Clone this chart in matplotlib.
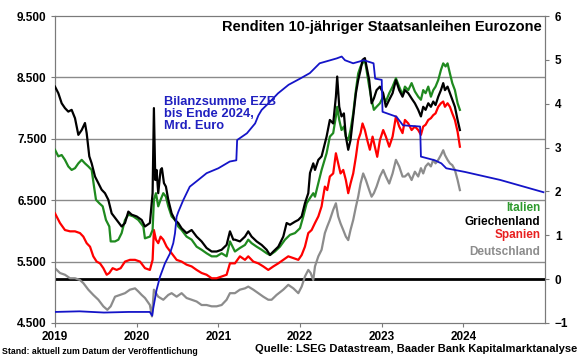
import matplotlib
matplotlib.use("Agg")
import matplotlib.pyplot as plt
from matplotlib.ticker import FuncFormatter

plt.rcParams['font.family'] = ['Liberation Sans', 'DejaVu Sans']
plt.rcParams['font.weight'] = 'bold'

# EZB-Bilanzsumme (Mrd. Euro, linke Achse)
ezb_t = [2019.0, 2019.3, 2019.6, 2019.9, 2020.16, 2020.19, 2020.203, 2020.244, 2020.285,
         2020.346, 2020.407, 2020.448, 2020.469, 2020.489, 2020.51, 2020.57, 2020.65,
         2020.754, 2020.856, 2021.0, 2021.14, 2021.22, 2021.23, 2021.35, 2021.45, 2021.49,
         2021.53, 2021.63, 2021.73, 2021.86, 2022.0, 2022.12, 2022.24, 2022.45, 2022.51,
         2022.55, 2022.65, 2022.73, 2022.78, 2022.90, 2022.92, 2023.0, 2023.01, 2023.18,
         2023.26, 2023.47, 2023.48, 2023.65, 2023.73, 2023.79, 2024.02, 2024.45, 2024.98]
ezb = [4680, 4690, 4670, 4680, 4680, 4620, 4740, 5040, 5250,
       5470, 5630, 5800, 5960, 6230, 6310, 6500, 6720,
       6830, 6940, 7020, 7130, 7150, 7480, 7590, 7750, 7880,
       7970, 8100, 8240, 8380, 8480, 8570, 8730, 8810, 8840,
       8780, 8730, 8760, 8780, 8730, 8480, 8460, 7940, 7860,
       7720, 7700, 7210, 7150, 7100, 7020, 6960, 6830, 6630]

# Renditen 10 J. (%, rechte Achse)
gr_t = [2019.000, 2019.041, 2019.082, 2019.122, 2019.163, 2019.204, 2019.245, 2019.286, 2019.327,
        2019.367, 2019.388, 2019.420, 2019.449, 2019.490, 2019.531, 2019.571, 2019.612, 2019.653,
        2019.694, 2019.755, 2019.816, 2019.857, 2019.898, 2019.939, 2020.000, 2020.061, 2020.102,
        2020.162, 2020.195, 2020.211, 2020.228, 2020.244, 2020.264, 2020.293, 2020.309, 2020.334,
        2020.358, 2020.387, 2020.428, 2020.469, 2020.509, 2020.550, 2020.611, 2020.673, 2020.734,
        2020.795, 2020.856, 2020.918, 2020.979, 2021.040, 2021.101, 2021.142, 2021.183, 2021.203,
        2021.264, 2021.326, 2021.366, 2021.407, 2021.469, 2021.530, 2021.591, 2021.632, 2021.673,
        2021.734, 2021.795, 2021.836, 2021.877, 2021.938, 2021.979, 2022.020, 2022.060, 2022.101,
        2022.122, 2022.162, 2022.183, 2022.224, 2022.264, 2022.325, 2022.365, 2022.406, 2022.439,
        2022.455, 2022.480, 2022.508, 2022.537, 2022.561, 2022.590, 2022.618, 2022.651, 2022.684,
        2022.712, 2022.741, 2022.765, 2022.794, 2022.814, 2022.847, 2022.876, 2022.904, 2022.937,
        2022.978, 2023.018, 2023.051, 2023.092, 2023.133, 2023.174, 2023.214, 2023.255, 2023.284,
        2023.325, 2023.366, 2023.406, 2023.447, 2023.480, 2023.508, 2023.537, 2023.570, 2023.602,
        2023.631, 2023.659, 2023.692, 2023.725, 2023.753, 2023.774, 2023.806, 2023.835, 2023.864,
        2023.896, 2023.929, 2023.957]
gr = [4.39, 4.24, 4.01, 3.90, 3.82, 3.86, 3.67, 3.29, 3.40,
      3.56, 3.33, 2.80, 2.64, 2.34, 2.19, 2.04, 1.96, 1.81,
      1.50, 1.35, 1.20, 1.28, 1.54, 1.47, 1.43, 1.35, 1.20,
      1.28, 1.96, 3.90, 2.26, 2.49, 1.96, 2.49, 2.53, 2.19,
      2.11, 1.81, 1.50, 1.35, 1.28, 1.16, 1.05, 1.12, 0.97,
      0.86, 0.71, 0.63, 0.63, 0.67, 0.78, 1.09, 0.90, 0.90,
      0.86, 0.97, 1.09, 0.97, 0.86, 0.78, 0.67, 0.55, 0.63,
      0.74, 0.97, 1.28, 1.24, 1.31, 1.35, 1.43, 1.73, 1.96,
      2.42, 2.64, 2.49, 2.72, 2.80, 3.25, 3.63, 3.55, 4.16,
      4.62, 3.93, 3.71, 3.78, 3.25, 2.95, 3.17, 3.71, 4.24,
      4.54, 4.77, 5.00, 5.04, 4.85, 4.54, 4.01, 4.12, 4.31,
      4.39, 4.24, 3.93, 4.09, 4.24, 4.54, 4.31, 4.16, 4.31,
      4.24, 4.12, 4.01, 3.86, 3.71, 3.93, 3.86, 4.01, 3.93,
      4.05, 3.97, 4.16, 4.31, 4.47, 4.31, 4.39, 4.24, 4.09,
      3.93, 3.63, 3.40]

it_t = [2019.000, 2019.041, 2019.082, 2019.122, 2019.163, 2019.204, 2019.245, 2019.286, 2019.327,
        2019.367, 2019.408, 2019.449, 2019.478, 2019.502, 2019.543, 2019.584, 2019.624, 2019.665,
        2019.682, 2019.735, 2019.776, 2019.816, 2019.857, 2019.898, 2019.959, 2020.020, 2020.082,
        2020.101, 2020.162, 2020.195, 2020.211, 2020.236, 2020.264, 2020.293, 2020.326, 2020.358,
        2020.387, 2020.428, 2020.469, 2020.509, 2020.550, 2020.611, 2020.673, 2020.734, 2020.795,
        2020.856, 2020.918, 2020.979, 2021.040, 2021.101, 2021.142, 2021.203, 2021.264, 2021.326,
        2021.366, 2021.407, 2021.469, 2021.530, 2021.591, 2021.632, 2021.693, 2021.754, 2021.816,
        2021.877, 2021.938, 2021.999, 2022.040, 2022.081, 2022.122, 2022.162, 2022.183, 2022.224,
        2022.264, 2022.325, 2022.365, 2022.406, 2022.439, 2022.455, 2022.480, 2022.508, 2022.537,
        2022.561, 2022.590, 2022.618, 2022.651, 2022.684, 2022.712, 2022.741, 2022.765, 2022.794,
        2022.814, 2022.847, 2022.876, 2022.904, 2022.937, 2022.978, 2023.018, 2023.051, 2023.092,
        2023.133, 2023.174, 2023.214, 2023.255, 2023.284, 2023.325, 2023.366, 2023.406, 2023.447,
        2023.480, 2023.508, 2023.537, 2023.570, 2023.602, 2023.631, 2023.659, 2023.692, 2023.725,
        2023.753, 2023.782, 2023.806, 2023.835, 2023.864, 2023.896, 2023.929, 2023.957]
it = [2.95, 2.80, 2.83, 2.72, 2.57, 2.49, 2.53, 2.64, 2.72,
      2.64, 2.57, 2.49, 2.11, 1.81, 1.73, 1.66, 1.35, 1.20,
      0.86, 0.86, 0.90, 1.05, 1.35, 1.47, 1.43, 1.35, 1.20,
      0.93, 0.97, 1.12, 1.81, 1.96, 1.66, 1.81, 1.96, 1.88,
      1.66, 1.43, 1.35, 1.20, 1.12, 0.97, 0.90, 0.74, 0.67,
      0.59, 0.52, 0.52, 0.59, 0.52, 0.86, 0.63, 0.71, 0.78,
      0.90, 0.82, 0.74, 0.67, 0.59, 0.55, 0.63, 0.74, 0.90,
      1.01, 1.05, 1.16, 1.43, 1.73, 1.85, 1.96, 1.88, 2.19,
      2.49, 2.87, 3.25, 3.33, 3.71, 3.93, 3.63, 3.40, 3.48,
      3.25, 3.17, 3.40, 3.78, 4.31, 4.69, 4.85, 4.92, 5.00,
      4.77, 4.39, 4.09, 3.86, 3.93, 4.01, 4.16, 4.05, 4.24,
      4.39, 4.58, 4.39, 4.20, 4.39, 4.31, 4.47, 4.28, 4.16,
      4.09, 4.31, 4.24, 4.39, 4.16, 4.31, 4.39, 4.54, 4.77,
      4.92, 4.85, 4.92, 4.69, 4.47, 4.31, 4.01, 3.86]

es_t = [2019.000, 2019.061, 2019.122, 2019.184, 2019.245, 2019.306, 2019.347, 2019.388, 2019.429,
        2019.469, 2019.510, 2019.551, 2019.592, 2019.633, 2019.665, 2019.706, 2019.755, 2019.804,
        2019.857, 2019.918, 2019.980, 2020.041, 2020.102, 2020.162, 2020.195, 2020.211, 2020.236,
        2020.264, 2020.293, 2020.326, 2020.367, 2020.428, 2020.489, 2020.550, 2020.611, 2020.673,
        2020.734, 2020.795, 2020.856, 2020.918, 2020.979, 2021.040, 2021.101, 2021.142, 2021.203,
        2021.264, 2021.326, 2021.366, 2021.428, 2021.489, 2021.550, 2021.611, 2021.673, 2021.734,
        2021.795, 2021.856, 2021.918, 2021.979, 2022.020, 2022.060, 2022.101, 2022.142, 2022.183,
        2022.224, 2022.264, 2022.276, 2022.304, 2022.333, 2022.365, 2022.406, 2022.439, 2022.467,
        2022.496, 2022.529, 2022.561, 2022.590, 2022.618, 2022.651, 2022.684, 2022.712, 2022.741,
        2022.765, 2022.794, 2022.823, 2022.855, 2022.888, 2022.916, 2022.945, 2022.978, 2023.018,
        2023.051, 2023.092, 2023.133, 2023.174, 2023.214, 2023.255, 2023.284, 2023.325, 2023.366,
        2023.406, 2023.447, 2023.480, 2023.508, 2023.537, 2023.570, 2023.602, 2023.631, 2023.659,
        2023.692, 2023.725, 2023.753, 2023.774, 2023.806, 2023.835, 2023.864, 2023.896, 2023.929,
        2023.957]
es = [1.50, 1.28, 1.12, 1.09, 1.09, 1.05, 0.97, 0.82, 0.74,
      0.52, 0.40, 0.36, 0.25, 0.10, 0.14, 0.25, 0.21, 0.25,
      0.40, 0.44, 0.44, 0.40, 0.25, 0.21, 0.44, 1.12, 0.90,
      0.82, 0.97, 0.90, 0.74, 0.59, 0.44, 0.40, 0.33, 0.29,
      0.21, 0.14, 0.10, 0.02, 0.02, 0.06, 0.10, 0.36, 0.36,
      0.52, 0.44, 0.52, 0.40, 0.36, 0.29, 0.21, 0.29, 0.36,
      0.44, 0.52, 0.48, 0.44, 0.55, 0.74, 1.05, 1.12, 1.28,
      1.43, 1.66, 1.80, 2.11, 2.03, 2.34, 2.41, 2.87, 2.64,
      2.41, 2.49, 2.26, 1.96, 2.18, 2.41, 2.79, 3.17, 3.33,
      3.55, 3.40, 3.17, 2.95, 3.25, 3.02, 2.79, 3.17, 3.40,
      3.25, 3.02, 3.25, 3.71, 3.48, 3.33, 3.63, 3.55, 3.40,
      3.48, 3.40, 3.29, 3.48, 3.52, 3.63, 3.67, 3.74, 3.78,
      3.93, 4.01, 4.05, 3.93, 4.01, 3.93, 3.78, 3.63, 3.36,
      3.02]

de_t = [2019.000, 2019.061, 2019.122, 2019.184, 2019.245, 2019.306, 2019.347, 2019.408, 2019.469,
        2019.531, 2019.592, 2019.641, 2019.682, 2019.735, 2019.796, 2019.857, 2019.918, 2019.980,
        2020.020, 2020.061, 2020.102, 2020.162, 2020.187, 2020.211, 2020.236, 2020.264, 2020.326,
        2020.387, 2020.428, 2020.489, 2020.550, 2020.611, 2020.673, 2020.734, 2020.795, 2020.856,
        2020.918, 2020.979, 2021.040, 2021.101, 2021.142, 2021.203, 2021.264, 2021.326, 2021.366,
        2021.428, 2021.489, 2021.550, 2021.611, 2021.652, 2021.713, 2021.795, 2021.856, 2021.918,
        2021.979, 2022.020, 2022.060, 2022.101, 2022.130, 2022.162, 2022.183, 2022.224, 2022.264,
        2022.304, 2022.333, 2022.365, 2022.406, 2022.439, 2022.467, 2022.496, 2022.529, 2022.561,
        2022.590, 2022.618, 2022.651, 2022.684, 2022.712, 2022.741, 2022.773, 2022.806, 2022.847,
        2022.876, 2022.904, 2022.937, 2022.978, 2023.018, 2023.051, 2023.092, 2023.133, 2023.174,
        2023.214, 2023.255, 2023.284, 2023.325, 2023.366, 2023.406, 2023.447, 2023.480, 2023.508,
        2023.537, 2023.570, 2023.602, 2023.631, 2023.659, 2023.692, 2023.725, 2023.753, 2023.774,
        2023.806, 2023.835, 2023.864, 2023.896, 2023.929, 2023.957]
de = [0.25, 0.14, 0.10, 0.02, 0.02, -0.02, -0.09, -0.24, -0.36,
      -0.47, -0.62, -0.70, -0.62, -0.40, -0.36, -0.32, -0.24, -0.21,
      -0.28, -0.36, -0.43, -0.59, -0.85, -0.24, -0.32, -0.40, -0.47,
      -0.36, -0.32, -0.40, -0.32, -0.43, -0.47, -0.51, -0.59, -0.59,
      -0.62, -0.62, -0.59, -0.47, -0.32, -0.32, -0.24, -0.21, -0.17,
      -0.24, -0.32, -0.40, -0.47, -0.47, -0.36, -0.24, -0.13, -0.21,
      -0.32, -0.17, 0.06, 0.21, 0.14, -0.02, 0.29, 0.52, 0.67,
      1.05, 1.20, 1.35, 1.58, 1.73, 1.43, 1.27, 1.12, 0.97,
      0.89, 1.12, 1.35, 1.65, 1.88, 2.18, 2.41, 2.26, 2.03,
      1.88, 1.96, 2.11, 2.34, 2.49, 2.34, 2.18, 2.41, 2.72,
      2.57, 2.34, 2.34, 2.41, 2.26, 2.45, 2.34, 2.53, 2.41,
      2.57, 2.64, 2.57, 2.72, 2.64, 2.72, 2.83, 2.94, 2.83,
      2.72, 2.64, 2.60, 2.49, 2.26, 2.03]

years = [2019, 2020, 2021, 2022, 2023, 2024]
left_ticks = [4500, 5500, 6500, 7500, 8500, 9500]
right_ticks = [-1, 0, 1, 2, 3, 4, 5, 6]

fig = plt.figure(figsize=(5.8, 3.59), dpi=100)
ax = fig.add_axes([0.0948, 0.1003, 0.845, 0.8551])
ax2 = ax.twinx()
ax3 = ax.twinx()

ax.set_xlim(2019, 2025)
ax.set_ylim(4500, 9500)
ax.set_yticks(left_ticks)
ax.yaxis.set_major_formatter(FuncFormatter(lambda v, p: f"{int(v):,}".replace(",", ".")))
ax.set_xticks(years)
ax.set_xticklabels([str(y) for y in years])
for v in left_ticks[1:-1]:
    ax.axhline(v, color='#8a8a8a', lw=1.0, zorder=0)

ax2.set_ylim(-1, 6)
ax2.set_yticks(right_ticks)
ax2.axhline(0, color='black', lw=2.0, zorder=1)

ax2.plot(de_t, de, color='#8c8c8c', lw=1.6, zorder=2)
ax2.plot(es_t, es, color='#ff0000', lw=1.6, zorder=3)
ax2.plot(it_t, it, color='#1f8a1f', lw=1.6, zorder=4)
ax2.plot(gr_t, gr, color='black', lw=1.6, zorder=5)

ax3.set_ylim(4500, 9500)
ax3.plot(ezb_t, ezb, color='#1414c8', lw=1.3)
ax3.set_yticks([])
for s in ax3.spines.values():
    s.set_visible(False)

for a in (ax, ax2):
    for s in a.spines.values():
        s.set_color('#7a7a7a')
        s.set_linewidth(0.8)
ax.tick_params(axis='both', labelsize=8.5, length=3, color='#7a7a7a', pad=3)
ax2.tick_params(axis='y', labelsize=8.5, length=3, color='#7a7a7a', pad=4)

ax3.text(0.994, 0.964, 'Renditen 10-jähriger Staatsanleihen Eurozone', transform=ax.transAxes,
         ha='right', va='center', fontsize=10.5, fontweight='bold')
ax3.text(0.222, 0.739, 'Bilanzsumme EZB\nbis Ende 2024,\nMrd. Euro', transform=ax.transAxes,
         ha='left', va='top', fontsize=9.3, fontweight='bold', color='#2020c0', linespacing=1.0)

labels = [('Italien', '#2e9a2e', 0.375), ('Griechenland', 'black', 0.329),
          ('Spanien', '#e82020', 0.287), ('Deutschland', '#8c8c8c', 0.231)]
for txt, col, yy in labels:
    ax3.text(0.990, yy, txt, transform=ax.transAxes, ha='right', va='center',
             fontsize=8.5, fontweight='bold', color=col)

fig.text(0.004, 0.0195, 'Stand: aktuell zum Datum der Veröffentlichung', ha='left', va='center',
         fontsize=6.3, fontweight='bold')
fig.text(0.995, 0.028, 'Quelle: LSEG Datastream, Baader Bank Kapitalmarktanalyse', ha='right',
         va='center', fontsize=8, fontweight='bold')

fig.savefig('out.png', dpi=100)
